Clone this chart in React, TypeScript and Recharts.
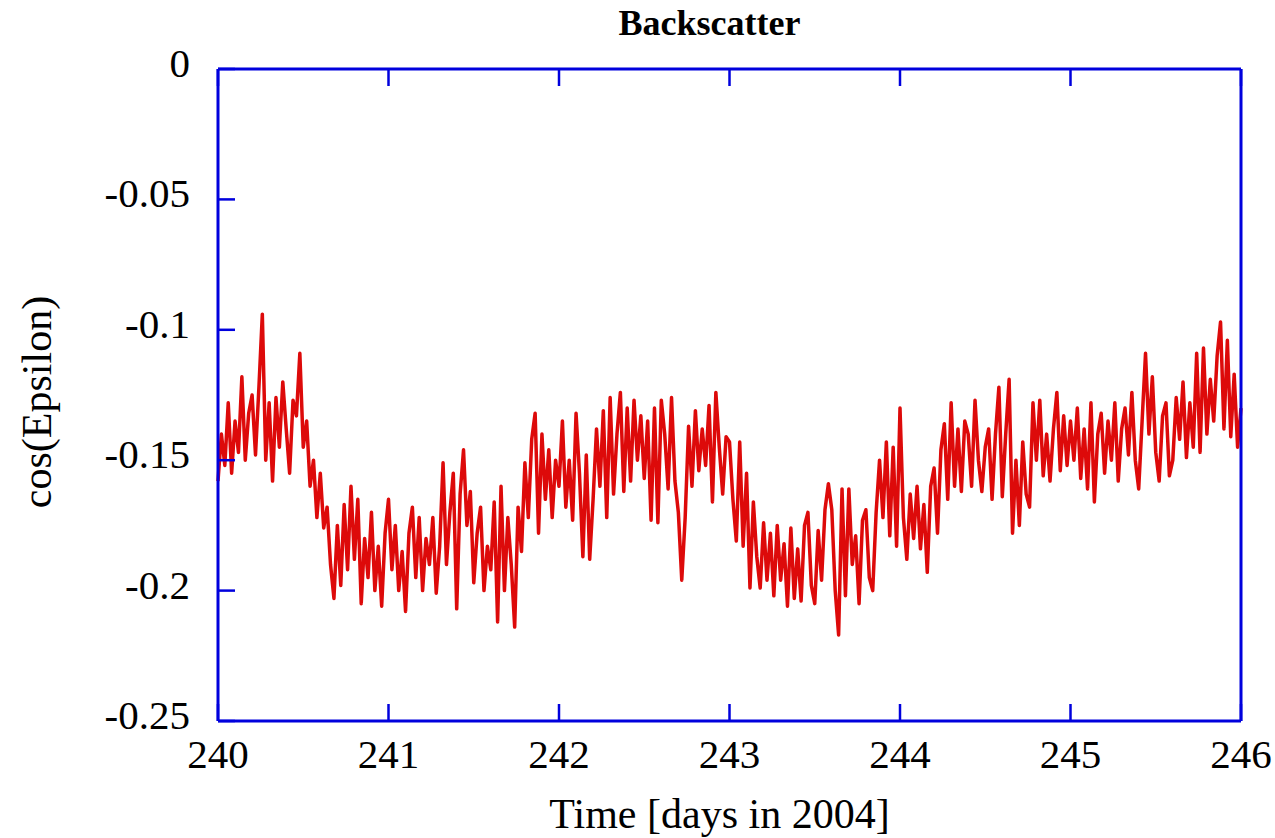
import { LineChart, Line, XAxis, YAxis } from 'recharts';

// cos(Epsilon), one value every 0.02 day
const day240 = [
  -0.158, -0.140, -0.152, -0.128, -0.155, -0.135, -0.147, -0.118, -0.150, -0.132,
  -0.125, -0.148, -0.122, -0.094, -0.150, -0.128, -0.158, -0.126, -0.145, -0.120,
  -0.138, -0.155, -0.127, -0.133, -0.109, -0.145, -0.135, -0.160, -0.150, -0.172,
  -0.155, -0.176, -0.168, -0.190, -0.203, -0.175, -0.198, -0.167, -0.192, -0.160,
  -0.188, -0.165, -0.205, -0.180, -0.195, -0.170, -0.200, -0.183, -0.206, -0.178,
];
const day241 = [
  -0.165, -0.192, -0.175, -0.200, -0.185, -0.208, -0.178, -0.168, -0.195, -0.172,
  -0.200, -0.180, -0.190, -0.172, -0.201, -0.183, -0.151, -0.190, -0.170, -0.155,
  -0.207, -0.163, -0.146, -0.175, -0.162, -0.197, -0.178, -0.168, -0.200, -0.183,
  -0.192, -0.166, -0.212, -0.160, -0.200, -0.172, -0.190, -0.214, -0.168, -0.185,
  -0.151, -0.172, -0.142, -0.132, -0.178, -0.140, -0.165, -0.146, -0.172, -0.150,
];
const day242 = [
  -0.160, -0.135, -0.168, -0.150, -0.173, -0.132, -0.155, -0.187, -0.148, -0.188,
  -0.165, -0.138, -0.160, -0.131, -0.172, -0.126, -0.163, -0.140, -0.124, -0.162,
  -0.130, -0.158, -0.127, -0.150, -0.133, -0.157, -0.135, -0.173, -0.130, -0.174,
  -0.127, -0.140, -0.161, -0.126, -0.158, -0.170, -0.196, -0.172, -0.137, -0.160,
  -0.131, -0.154, -0.138, -0.152, -0.129, -0.166, -0.124, -0.145, -0.163, -0.141,
];
const day243 = [
  -0.143, -0.165, -0.181, -0.143, -0.183, -0.155, -0.199, -0.166, -0.187, -0.199,
  -0.174, -0.196, -0.178, -0.202, -0.175, -0.196, -0.182, -0.206, -0.176, -0.203,
  -0.184, -0.204, -0.175, -0.170, -0.198, -0.205, -0.177, -0.196, -0.169, -0.159,
  -0.169, -0.200, -0.217, -0.161, -0.202, -0.161, -0.190, -0.179, -0.205, -0.173,
  -0.169, -0.195, -0.200, -0.170, -0.150, -0.172, -0.143, -0.179, -0.145, -0.183,
];
const day244 = [
  -0.130, -0.172, -0.188, -0.163, -0.180, -0.160, -0.184, -0.167, -0.193, -0.160,
  -0.153, -0.178, -0.146, -0.136, -0.165, -0.128, -0.160, -0.138, -0.162, -0.135,
  -0.140, -0.160, -0.127, -0.150, -0.162, -0.145, -0.138, -0.165, -0.140, -0.122,
  -0.164, -0.140, -0.119, -0.178, -0.150, -0.175, -0.143, -0.163, -0.168, -0.128,
  -0.150, -0.127, -0.156, -0.140, -0.158, -0.138, -0.124, -0.154, -0.133, -0.152,
];
const day245 = [
  -0.135, -0.150, -0.130, -0.157, -0.138, -0.161, -0.128, -0.166, -0.140, -0.132,
  -0.155, -0.135, -0.150, -0.128, -0.158, -0.138, -0.130, -0.148, -0.124, -0.150,
  -0.161, -0.135, -0.109, -0.140, -0.118, -0.147, -0.158, -0.133, -0.128, -0.156,
  -0.150, -0.126, -0.142, -0.120, -0.149, -0.128, -0.145, -0.109, -0.147, -0.107,
  -0.140, -0.119, -0.135, -0.110, -0.097, -0.138, -0.104, -0.141, -0.117, -0.145,
  -0.130,
];

const startDay = 240;
const step = 0.02;
const cosEpsilon = [...day240, ...day241, ...day242, ...day243, ...day244, ...day245];
const data = cosEpsilon.map((v, i) => ({ t: +(startDay + i * step).toFixed(2), v }));

const xTicks = [240, 241, 242, 243, 244, 245, 246];
const yTicks = [-0.25, -0.2, -0.15, -0.1, -0.05, 0];

const W = 1275;
const H = 838;
const BLUE = '#0000dd';
const RED = '#dd0a0a';
const FONT = '"Liberation Serif", "Times New Roman", serif';
const TICK = 17;

const LeftTick = ({ x, y, payload }: any) => (
  <g>
    <line x1={x} y1={y} x2={x + TICK} y2={y} stroke={BLUE} strokeWidth={2.5} />
    <text x={x - 28} y={y + 8} textAnchor="end" fontSize={41} fontFamily={FONT} fill="#000">
      {payload.value}
    </text>
  </g>
);

const RightTick = ({ x, y }: any) => (
  <line x1={x} y1={y} x2={x - TICK} y2={y} stroke={BLUE} strokeWidth={2.5} />
);

const BottomTick = ({ x, y, payload }: any) => (
  <g>
    <line x1={x} y1={y} x2={x} y2={y - TICK} stroke={BLUE} strokeWidth={2.5} />
    <text x={x} y={y + 47} textAnchor="middle" fontSize={41} fontFamily={FONT} fill="#000">
      {payload.value}
    </text>
  </g>
);

const TopTick = ({ x, y }: any) => (
  <line x1={x} y1={y} x2={x} y2={y + TICK} stroke={BLUE} strokeWidth={2.5} />
);

export default function App() {
  const frame = { stroke: BLUE, strokeWidth: 3 };
  // placed at the page corner so the plot box lands where the reference has it
  return (
    <div style={{ position: 'absolute', left: 0, top: 0, width: W, height: H }}>
      <LineChart width={W} height={H} data={data} margin={{ top: 59, right: 24, bottom: 57, left: 158 }}>
        <XAxis xAxisId="b" dataKey="t" type="number" domain={[240, 246]} ticks={xTicks} interval={0}
          orientation="bottom" height={60} axisLine={frame} tickLine={false} tickSize={0} tickMargin={0}
          tick={<BottomTick />} />
        <XAxis xAxisId="top" dataKey="t" type="number" domain={[240, 246]} ticks={xTicks} interval={0}
          orientation="top" height={10} axisLine={frame} tickLine={false} tickSize={0} tickMargin={0}
          tick={<TopTick />} />
        <YAxis yAxisId="l" type="number" domain={[-0.25, 0]} ticks={yTicks} interval={0}
          orientation="left" width={60} axisLine={frame} tickLine={false} tickSize={0} tickMargin={0}
          tick={<LeftTick />} />
        <YAxis yAxisId="r" type="number" domain={[-0.25, 0]} ticks={yTicks} interval={0}
          orientation="right" width={10} axisLine={frame} tickLine={false} tickSize={0} tickMargin={0}
          tick={<RightTick />} />
        <Line xAxisId="b" yAxisId="l" type="linear" dataKey="v" stroke={RED} strokeWidth={3.5}
          strokeLinejoin="round" dot={false} isAnimationActive={false} />
      </LineChart>
      <svg width={W} height={H} style={{ position: 'absolute', left: 0, top: 0, pointerEvents: 'none' }}>
        <text x={709.5} y={35} textAnchor="middle" fontSize={36} fontWeight="bold" fontFamily={FONT}>
          Backscatter
        </text>
        <text x={719.5} y={828} textAnchor="middle" fontSize={42} fontFamily={FONT}>
          Time [days in 2004]
        </text>
        <text x={51} y={402} textAnchor="middle" fontSize={42} fontFamily={FONT}
          transform="rotate(-90 51 402)">
          cos(Epsilon)
        </text>
      </svg>
    </div>
  );
}
